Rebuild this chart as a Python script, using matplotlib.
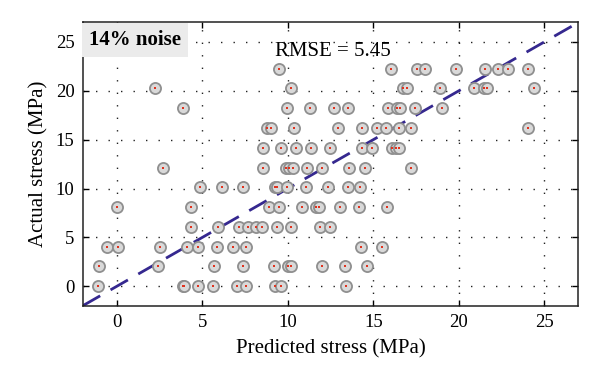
import matplotlib
matplotlib.use('Agg')
import matplotlib.pyplot as plt
import numpy as np

# actual stress levels (MPa) and predicted values per level
y_levels = [0.0, 2.03, 4.05, 6.08, 8.10, 10.13, 12.15, 14.18, 16.20, 18.23, 20.25, 22.28]
pred_by_level = [
    [-1.13, 3.85, 3.95, 4.73, 5.60, 7.00, 7.54, 9.23, 9.60, 13.40],
    [-1.03, 2.39, 5.65, 7.36, 9.21, 9.98, 10.18, 12.02, 13.36, 14.62],
    [-0.58, 0.04, 2.53, 4.11, 4.77, 5.85, 6.80, 7.55, 14.28, 15.52],
    [4.32, 5.93, 7.12, 7.67, 8.16, 8.47, 9.39, 10.19, 11.87, 12.47],
    [0.02, 4.32, 8.90, 9.46, 10.82, 11.64, 11.80, 13.03, 14.15, 15.81],
    [4.86, 6.17, 7.40, 9.22, 9.38, 9.95, 11.04, 12.34, 13.49, 14.22],
    [2.71, 8.53, 9.89, 10.08, 10.28, 11.12, 12.02, 13.57, 14.49, 17.19],
    [8.54, 9.58, 10.50, 11.34, 12.45, 14.36, 14.93, 16.10, 16.30, 16.49],
    [8.76, 9.02, 10.38, 12.91, 14.35, 15.24, 15.73, 16.50, 17.20, 24.05],
    [3.84, 9.97, 11.30, 12.68, 13.49, 15.87, 16.37, 16.56, 17.42, 18.99],
    [2.24, 10.16, 16.74, 16.98, 18.93, 20.88, 21.47, 21.63, 24.42],
    [9.50, 16.04, 17.55, 18.03, 19.81, 21.53, 22.27, 22.89, 24.03],
]
ident = [-2, 27]
rmse = 5.45
noise_label = '14% noise'

pred = np.concatenate([np.array(p) for p in pred_by_level])
actual = np.concatenate([np.full(len(p), y) for p, y in zip(pred_by_level, y_levels)])

plt.rcParams['font.family'] = ['Liberation Serif', 'DejaVu Serif']

fig = plt.figure(figsize=(6, 3.87), dpi=100)
ax = fig.add_axes([0.138, 0.210, 0.826, 0.732])

ax.grid(True, color='#222222', linestyle=(0, (1, 8)), linewidth=1.0)
ax.set_axisbelow(True)

ax.plot(ident, ident, color='#35288f', linewidth=2, linestyle=(0, (7.2, 4.3)), zorder=2)

ax.plot(pred, actual, linestyle='none', marker='o', markersize=8.0,
        markerfacecolor='#d9d9d9', markeredgecolor='#8f8f8f', markeredgewidth=1.3, zorder=3)
ax.plot(pred, actual, linestyle='none', marker='s', markersize=1.8,
        markerfacecolor='#e0321e', markeredgewidth=0, zorder=4)

ax.set_xlim(-2, 27)
ax.set_ylim(-2, 27)
ax.set_xticks([0, 5, 10, 15, 20, 25])
ax.set_yticks([0, 5, 10, 15, 20, 25])
ax.tick_params(direction='in', length=4, width=1, top=True, right=True,
               labelsize=13.5, pad=6)
for sp in ax.spines.values():
    sp.set_linewidth(1.1)
    sp.set_color('#222222')

ax.set_xlabel('Predicted stress (MPa)', fontsize=15, labelpad=6)
ax.set_ylabel('Actual stress (MPa)', fontsize=15, labelpad=5)

ax.text(0.505, 0.899, f'RMSE = {rmse:.2f}', transform=ax.transAxes,
        ha='center', va='center', fontsize=15)
ax.text(0.013, 0.937, noise_label, transform=ax.transAxes, ha='left', va='center',
        fontsize=15, fontweight='bold',
        bbox=dict(boxstyle='square,pad=0.33', facecolor='#ebebeb', edgecolor='none'))

fig.savefig('out.png', dpi=100)
